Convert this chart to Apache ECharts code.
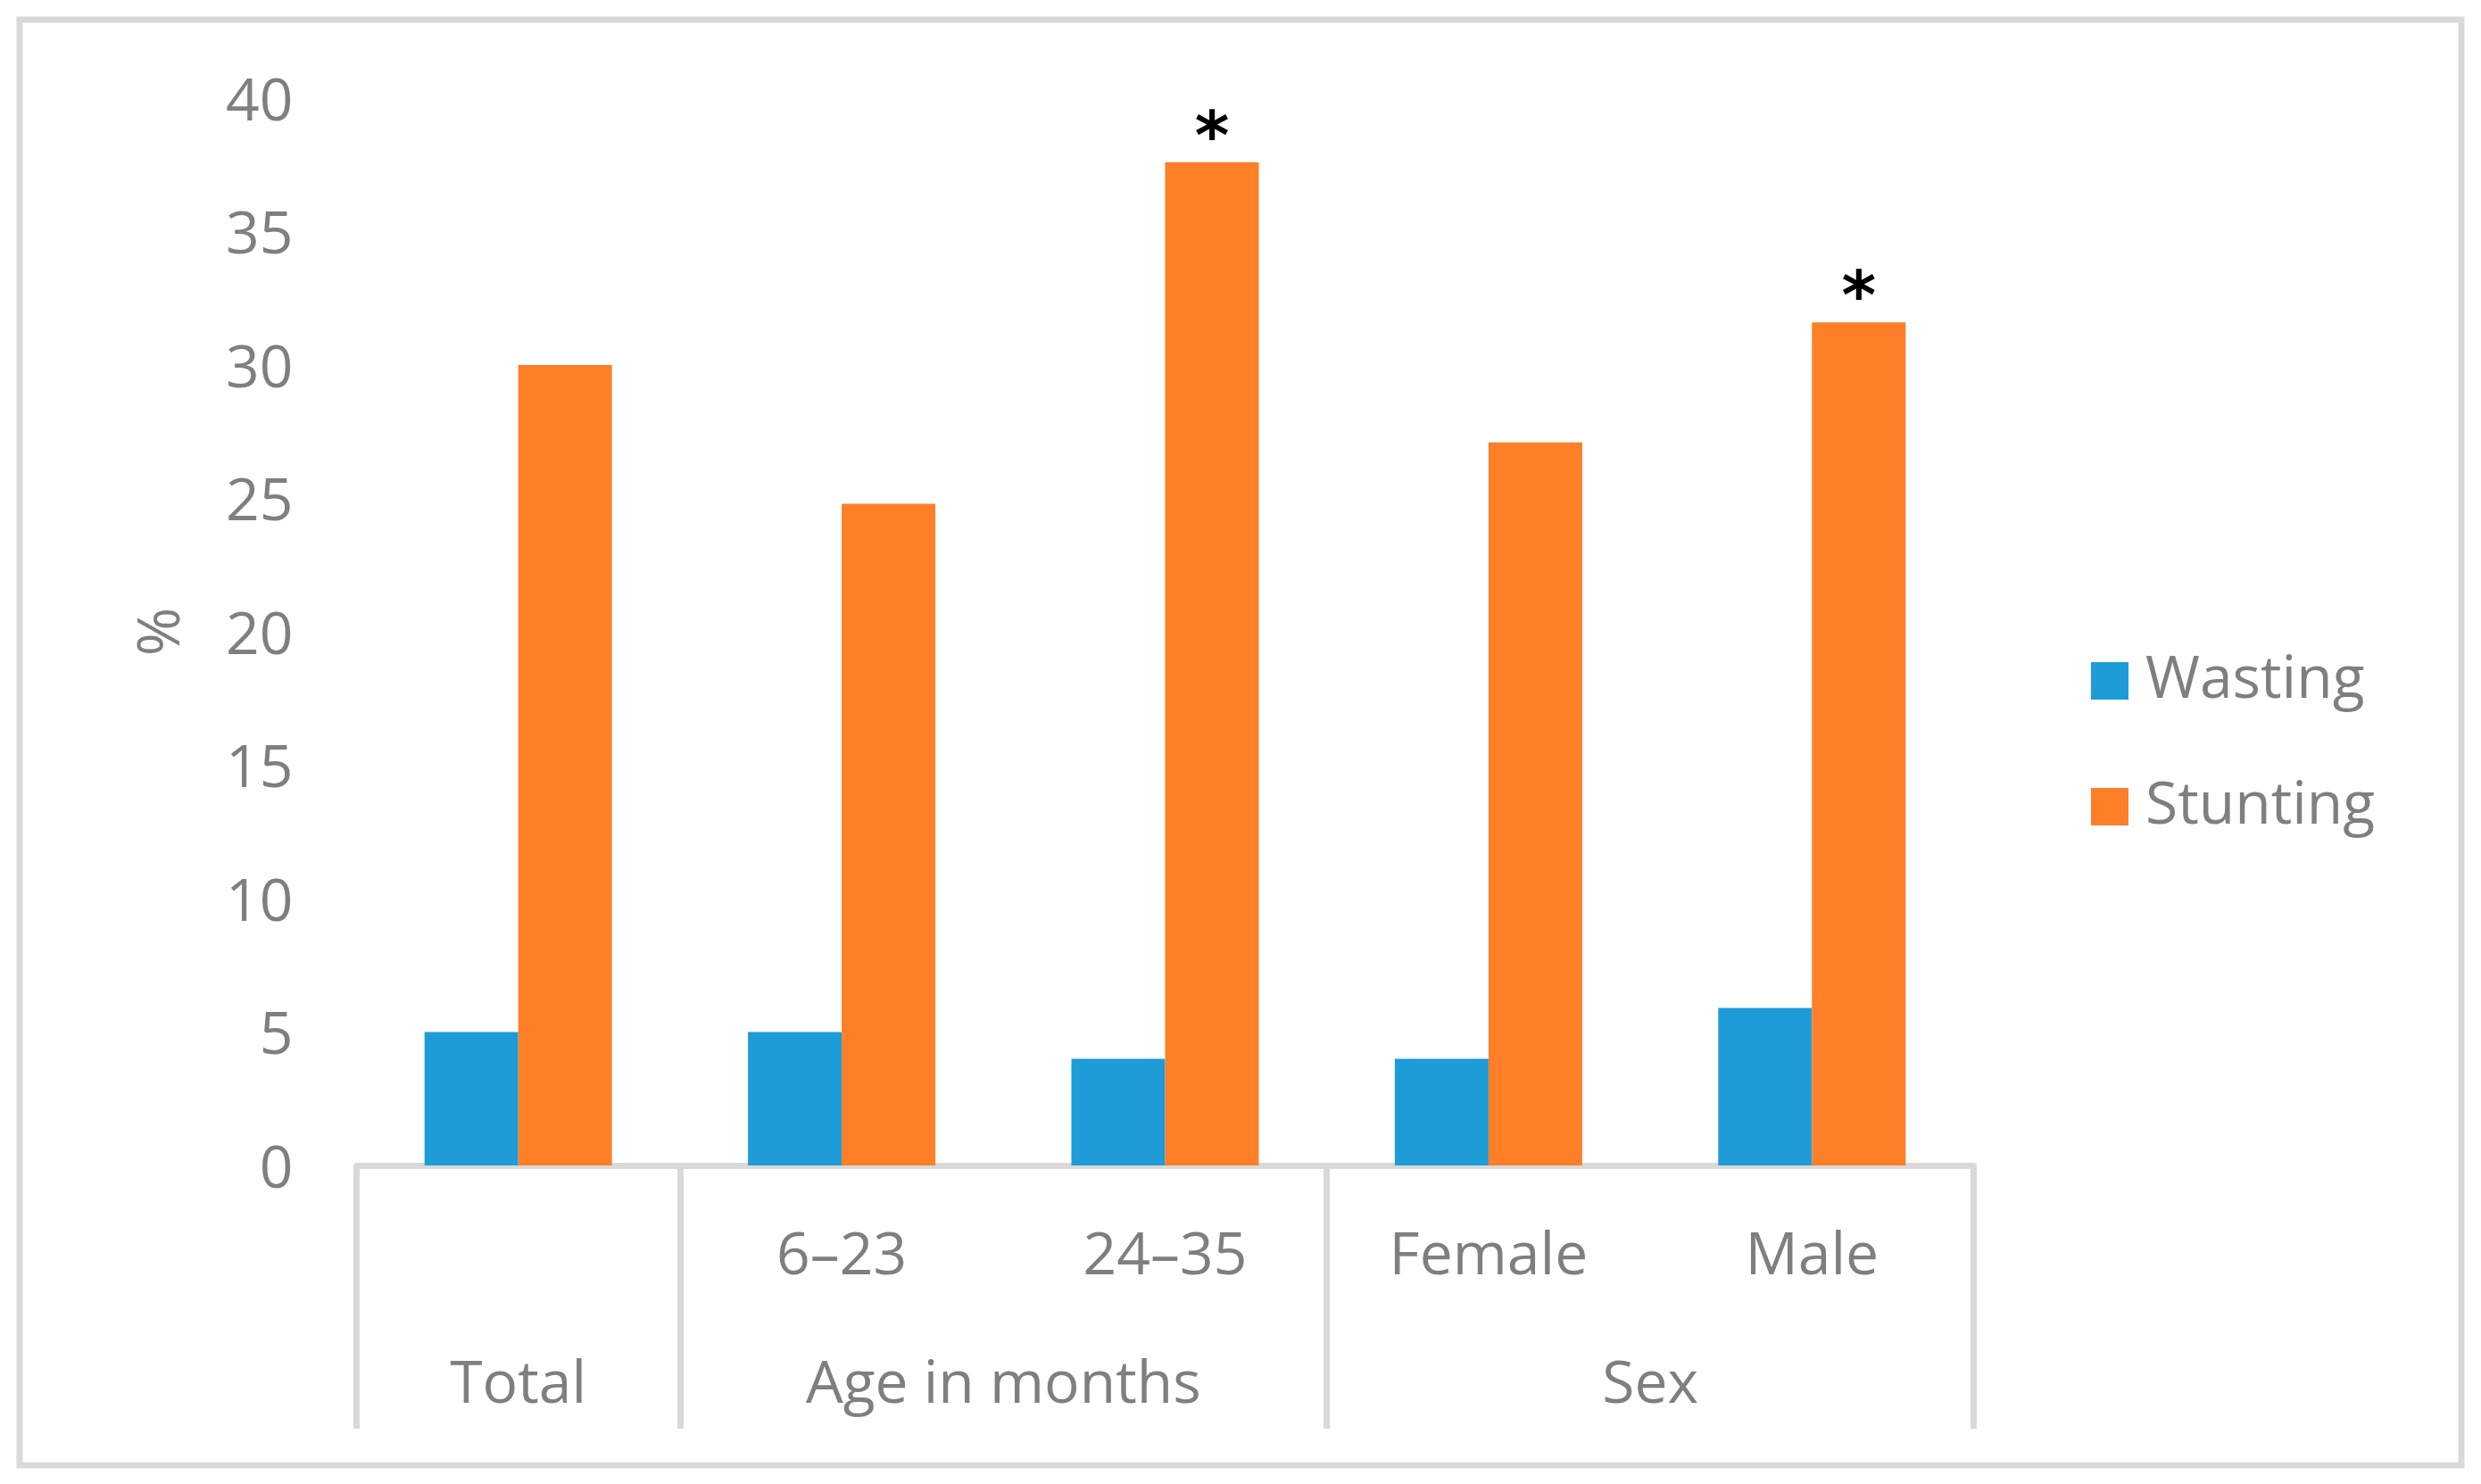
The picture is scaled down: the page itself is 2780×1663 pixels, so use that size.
<!DOCTYPE html>
<html>
<head>
<meta charset="utf-8">
<script src="https://cdn.jsdelivr.net/npm/echarts@6/dist/echarts.min.js"></script>
<style>
html,body{margin:0;padding:0;background:#fff;}
#chart{width:2780px;height:1663px;}
</style>
</head>
<body>
<div id="chart"></div>
<script>
const categories = ['', '6–23', '24–35', 'Female', 'Male'];
const groupLabels = ['', 'Total', '', '', 'Age in months', '', '', '', 'Sex', '', ''];
const groupBoundaries = [0, 1, 3];
const wasting = [5, 5, 4, 4, 5.9];
const stunting = [30, 24.8, 37.6, 27.1, 31.6];
const marks = ['', '', '*', '', '*'];
const yTicks = { min: 0, max: 40, interval: 5 };

const gray = '#7f7f7f';
const lineGray = '#d9d9d9';
const font = '"Open Sans", sans-serif';
const fs = 66;

const chart = echarts.init(document.getElementById('chart'));
chart.setOption({
  backgroundColor: '#ffffff',
  animation: false,
  graphic: [{
    type: 'rect',
    shape: { x: 22, y: 22, width: 2736, height: 1620 },
    style: { fill: 'none', stroke: lineGray, lineWidth: 7 },
    silent: true
  }],
  grid: { left: 399.5, right: 568.5, top: 110, bottom: 357, containLabel: false },
  legend: {
    orient: 'vertical',
    left: 2338,
    top: 725,
    icon: 'rect',
    itemWidth: 42,
    itemHeight: 42,
    itemGap: 75,
    textStyle: { color: gray, fontSize: fs, fontFamily: font, lineHeight: 66, padding: [0, 0, 0, 14] },
    data: ['Wasting', 'Stunting']
  },
  xAxis: [{
    type: 'category',
    data: categories,
    position: 'bottom',
    axisLine: { show: true, lineStyle: { color: lineGray, width: 7 } },
    axisTick: {
      show: true,
      length: 295,
      interval: function (idx) { return groupBoundaries.indexOf(idx) >= 0; },
      lineStyle: { color: lineGray, width: 7 }
    },
    axisLabel: { interval: 0, color: gray, fontSize: fs, fontFamily: font, margin: 70 },
    splitLine: { show: false }
  }, {
    type: 'category',
    data: groupLabels,
    position: 'bottom',
    boundaryGap: false,
    axisLine: { show: false },
    axisTick: { show: false },
    axisLabel: { interval: 0, color: gray, fontSize: fs, fontFamily: font, margin: 214 },
    splitLine: { show: false }
  }],
  yAxis: {
    type: 'value',
    min: yTicks.min,
    max: yTicks.max,
    interval: yTicks.interval,
    name: '%',
    nameLocation: 'middle',
    nameGap: 184,
    nameTextStyle: { color: gray, fontSize: fs, fontFamily: font },
    axisLine: { show: false },
    axisTick: { show: false },
    splitLine: { show: false },
    axisLabel: {
      margin: 71,
      formatter: function (v) { return '{n|' + v + '}'; },
      rich: { n: { color: gray, fontSize: fs, fontFamily: font, padding: [12, 0, 0, 0] } }
    }
  },
  series: [{
    name: 'Wasting',
    type: 'bar',
    xAxisIndex: 0,
    data: wasting,
    barWidth: 105,
    barGap: '0%',
    itemStyle: { color: '#1d9cd8' }
  }, {
    name: 'Stunting',
    type: 'bar',
    xAxisIndex: 0,
    data: stunting,
    barWidth: 105,
    barGap: '0%',
    itemStyle: { color: '#fe7f27' },
    label: {
      show: true,
      position: 'top',
      distance: -14,
      formatter: function (p) { return marks[p.dataIndex]; },
      color: '#000000',
      fontSize: 74,
      fontWeight: 'bold',
      fontFamily: '"DejaVu Sans", sans-serif'
    }
  }]
});
</script>
</body>
</html>
